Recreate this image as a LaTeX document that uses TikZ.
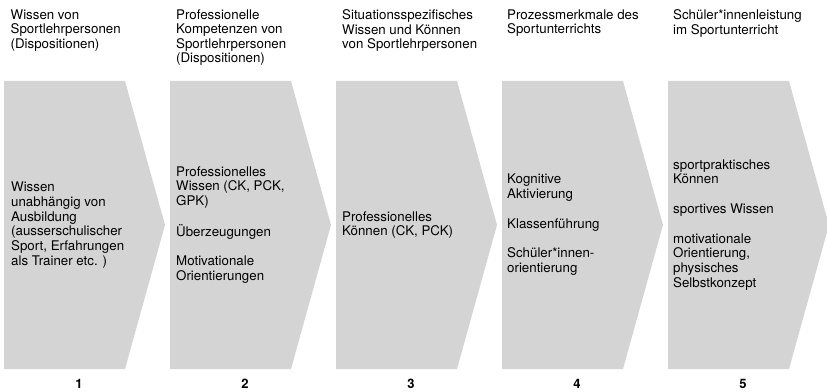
\documentclass[tikz,border=0pt]{standalone}
\usepackage{fontspec}
\setmainfont{TeX Gyre Heros}
\definecolor{boxgray}{RGB}{212,212,212}
\def\chevron(#1){\fill[boxgray] (#1, 22) -- (#1+121, 22) -- (#1+161, 166) -- (#1+121, 310) -- (#1, 310) -- cycle;}
\tikzset{
	head/.style={anchor=north west, inner sep=0pt, align=left, font=\fontsize{13.3}{14.5}\selectfont},
	inner/.style={anchor=west, inner sep=0pt, align=left, font=\fontsize{13.3}{14.8}\selectfont},
	num/.style={inner sep=0pt, font=\fontsize{13}{15}\selectfont\bfseries}
}

\begin{document}
\begin{tikzpicture}[x=1pt, y=1pt]
				%%%%% START %%%%%
				\useasboundingbox (0, 0) rectangle (827, 391);
				
				\chevron(4)
				\chevron(170)
				\chevron(336)
				\chevron(502)
				\chevron(668)
				
				\node[head] (h1) at (10.5, 381.5) {Wissen von\\Sportlehrpersonen\\(Dispositionen)};
				\node[head] (h2) at (176, 381.5) {Professionelle\\Kompetenzen von\\Sportlehrpersonen\\(Dispositionen)};
				\node[head] (h3) at (342, 381.5) {Situationsspezifisches\\Wissen und Können\\von Sportlehrpersonen};
				\node[head] (h4) at (507, 381.5) {Prozessmerkmale des\\Sportunterrichts};
				\node[head] (h5) at (673, 381.5) {Schüler*innenleistung\\im Sportunterricht};
				
				\node[inner] (t1) at (11, 166) {Wissen\\unabhängig von\\Ausbildung\\(ausserschulischer\\Sport, Erfahrungen\\als Trainer etc. )};
				\node[inner] (t2) at (176, 166) {Professionelles\\Wissen (CK, PCK,\\GPK)\\[14.8pt]Überzeugungen\\[14.8pt]Motivationale\\Orientierungen};
				\node[inner] (t3) at (342, 166) {Professionelles\\Können (CK, PCK)};
				\node[inner] (t4) at (507, 166) {Kognitive\\Aktivierung\\[14.8pt]Klassenführung\\[14.8pt]Schüler*innen-\\orientierung};
				\node[inner] (t5) at (673, 166) {sportpraktisches\\Können\\[14.8pt]sportives Wissen\\[14.8pt]motivationale\\Orientierung,\\physisches\\Selbstkonzept};
				
				\node[num] (n1) at (79, 7) {1};
				\node[num] (n2) at (245, 7) {2};
				\node[num] (n3) at (411, 7) {3};
				\node[num] (n4) at (577, 7) {4};
				\node[num] (n5) at (743, 7) {5};
				%%%%% END %%%%%
\end{tikzpicture}
\end{document}
